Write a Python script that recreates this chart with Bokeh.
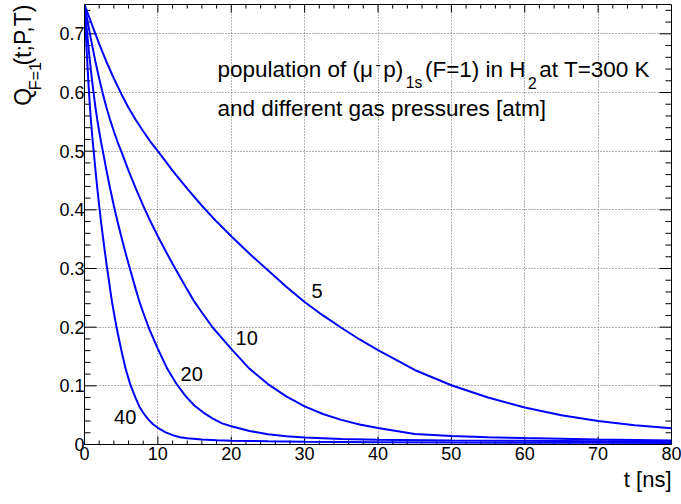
import math
from bokeh.plotting import figure
from bokeh.layouts import row
from bokeh.models import Label, Title, FixedTicker, CustomJSTickFormatter, Range1d, ColumnDataSource
from bokeh.core.properties import value
from bokeh.embed import file_html
from bokeh.resources import INLINE

# ---------------- data ----------------
pressures = ["5", "10", "20", "40"]

t5 = [0, 1, 2, 3, 4, 5, 6, 7, 8, 9, 10, 12, 14, 16, 18, 20, 22.5, 25, 27.5, 30,
      32.5, 35, 37.5, 40, 45, 50, 55, 60, 65, 70, 75, 80]
q5 = [0.75, 0.716, 0.683, 0.652, 0.624, 0.598, 0.574, 0.553, 0.534, 0.516, 0.500,
      0.467, 0.436, 0.407, 0.380, 0.355, 0.325, 0.297, 0.269, 0.243, 0.220, 0.199,
      0.179, 0.161, 0.127, 0.101, 0.080, 0.063, 0.050, 0.040, 0.033, 0.0275]

t10 = [0, 0.5, 1, 1.5, 2, 2.5, 3, 3.5, 4, 4.5, 5, 6, 7, 8, 9, 10, 11, 12, 13, 14,
       15, 16, 17.5, 20, 22.5, 25, 27.5, 30, 32.5, 35, 37.5, 40, 45, 50, 55, 60, 70, 80]
q10 = [0.75, 0.716, 0.683, 0.652, 0.624, 0.598, 0.574, 0.553, 0.534, 0.516,
       0.500, 0.467, 0.436, 0.407, 0.380, 0.355, 0.331, 0.308, 0.286, 0.264,
       0.243, 0.225, 0.199, 0.163, 0.129, 0.103, 0.082, 0.065, 0.052, 0.042,
       0.034, 0.028, 0.018, 0.0145, 0.0125, 0.011, 0.0085, 0.0068]

t20 = [0, 0.25, 0.5, 0.75, 1, 1.25, 1.5, 1.75, 2, 2.25, 2.5, 3, 3.5, 4, 4.5, 5, 5.5,
       6, 6.5, 7, 7.5, 8, 8.75, 10, 11.25, 12.5, 13.75, 15, 16.25, 17.5, 18.75, 20,
       22.5, 25, 27.5, 30, 35, 40, 50, 60, 70, 80]
q20 = [0.75, 0.716, 0.683, 0.652, 0.624, 0.598, 0.574, 0.553, 0.534, 0.516,
       0.500, 0.467, 0.436, 0.407, 0.380, 0.355, 0.331, 0.308, 0.286, 0.264,
       0.243, 0.225, 0.199, 0.163, 0.130, 0.104, 0.083, 0.066, 0.054, 0.044,
       0.036, 0.031, 0.023, 0.0175, 0.014, 0.0118, 0.0095, 0.0083, 0.0070, 0.0062,
       0.0056, 0.0050]

t40 = [0, 0.125, 0.25, 0.375, 0.5, 0.625, 0.75, 0.875, 1, 1.125, 1.25, 1.5, 1.75, 2,
       2.25, 2.5, 2.75, 3, 3.25, 3.5, 3.75, 4, 4.375, 5, 5.625, 6.25, 6.875, 7.5,
       8.125, 8.75, 9.375, 10, 11, 12, 13, 14, 16, 18, 20, 25, 30, 40, 50, 60, 70, 80]
q40 = [0.75, 0.716, 0.683, 0.652, 0.624, 0.598, 0.574, 0.553, 0.534, 0.516,
       0.500, 0.467, 0.436, 0.407, 0.380, 0.355, 0.331, 0.308, 0.286, 0.264,
       0.243, 0.225, 0.199, 0.162, 0.128, 0.102, 0.082, 0.064, 0.052, 0.042,
       0.034, 0.0285, 0.021, 0.016, 0.0125, 0.0105, 0.0085, 0.0073, 0.0065, 0.0055,
       0.0048, 0.0040, 0.0035, 0.0031, 0.0028, 0.0025]

# curve-label anchor points (data units)
label_t = [31.7, 22.1, 14.6, 5.55]
label_q = [0.262, 0.182, 0.121, 0.047]

x_ticks = list(range(0, 81, 10))
x_minor = list(range(0, 81, 2))
y_ticks = [round(i * 0.1, 1) for i in range(8)]
y_minor = [round(i * 0.02, 2) for i in range(38)]

# ---------------- layout constants ----------------
W, H = 681, 504
WL = 44                                  # narrow left strip holding the y title
BL, BR, BT, BB = 84, 10, 4, 60           # frame borders measured on the whole canvas
FW, FH = W - BL - BR, H - BT - BB
X0, X1, Y0, Y1 = 0.0, 80.0, 0.0, 0.75
FONT = "Liberation Sans"
BLUE = "#0000ff"
BASE_FIX = 0.37                          # alphabetic-baseline correction (fraction of font size)


def px2x(px):
    return X0 + (px - BL) * (X1 - X0) / FW


def top2y(py):
    return Y0 + (H - BB - py) * (Y1 - Y0) / FH


dx = (X1 - X0) / FW
dy = (Y1 - Y0) / FH

# ---------------- main figure ----------------
p = figure(width=W - WL, height=H, x_range=Range1d(X0, X1), y_range=Range1d(Y0, Y1),
           output_backend="svg", toolbar_location=None,
           min_border_left=BL - WL, min_border_right=BR, min_border_top=BT,
           min_border_bottom=BB)
p.background_fill_color = "white"
p.border_fill_color = "white"
p.outline_line_color = "black"
p.outline_line_width = 1

xa = p.xaxis[0]
xa.ticker = FixedTicker(ticks=x_ticks)
xa.formatter = CustomJSTickFormatter(code="return Math.round(tick).toString();")
ya = p.yaxis[0]
ya.ticker = FixedTicker(ticks=y_ticks)
ya.formatter = CustomJSTickFormatter(code="return tick < 1e-9 ? '0' : tick.toFixed(1);")
for ax in (xa, ya):
    ax.major_tick_in = 0
    ax.major_tick_out = 0
    ax.minor_tick_in = 0
    ax.minor_tick_out = 0
    ax.axis_line_color = "black"
    ax.major_label_text_font = FONT
    ax.major_label_text_font_size = "18px"
    ax.major_label_text_color = "black"
xa.major_label_standoff = 2
ya.major_label_standoff = 0

for g in (p.xgrid[0], p.ygrid[0]):
    g.grid_line_color = "#666666"
    g.grid_line_dash = "1 2"
    g.grid_line_width = 1
p.xgrid[0].ticker = FixedTicker(ticks=x_ticks)
p.ygrid[0].ticker = FixedTicker(ticks=y_ticks)

# inward ticks on all four sides (ROOT style)
XMAJ, XMIN, YMAJ, YMIN = 8, 4, 12, 6
sx0, sy0, sx1, sy1 = [], [], [], []
for v in x_minor:
    L = (XMAJ if v in x_ticks else XMIN) * dy
    sx0 += [v, v]; sx1 += [v, v]
    sy0 += [Y0, Y1]; sy1 += [Y0 + L, Y1 - L]
for v in y_minor:
    L = (YMAJ if v in y_ticks else YMIN) * dx
    sy0 += [v, v]; sy1 += [v, v]
    sx0 += [X0, X1]; sx1 += [X0 + L, X1 - L]
p.segment(x0=sx0, y0=sy0, x1=sx1, y1=sy1, line_color="black", line_width=1)

# curves
for ts, qs in ((t5, q5), (t10, q10), (t20, q20), (t40, q40)):
    p.line(ts, qs, line_color=BLUE, line_width=2)

lab_src = ColumnDataSource(dict(x=label_t, y=label_q, text=pressures))
p.text(x="x", y="y", text="text", source=lab_src, text_font=value(FONT),
       text_font_size=value("20px"), text_align="center", text_baseline="middle",
       text_color="black")

# ---------------- composed annotation ----------------
ADV = {' ': 278, '(': 333, ')': 333, '-': 333, '=': 584, ',': 278, ';': 278, '[': 278,
       ']': 278, '0': 556, '1': 556, '2': 556, '3': 556, '5': 556, 'F': 611, 'H': 722,
       'K': 667, 'P': 667, 'Q': 778, 'T': 611, 'a': 556, 'c': 500, 'd': 556, 'e': 556,
       'f': 278, 'g': 556, 'i': 222, 'l': 222, 'm': 833, 'n': 556, 'o': 556, 'p': 556,
       'r': 333, 's': 500, 't': 278, 'u': 556, '\u03bc': 576}


def width(s, size):
    return sum(ADV.get(c, 556) for c in s) / 1000.0 * size


def add(text, xpx, ytop, size):
    p.add_layout(Label(x=px2x(xpx), y=top2y(ytop - BASE_FIX * size), x_units="data",
                       y_units="data", text=text, text_font=FONT,
                       text_font_size=f"{size:.1f}px", text_align="left",
                       text_baseline="alphabetic", text_color="black"))


S = 22.5
s = 0.7 * S
base1 = 77.5
pieces = [("population of (\u03bc", S, 0.0), ("-", s, -8.0), ("p)", S, 0.0),
          ("1s", s, 10.5), ("(F=1) in H", S, 0.0), ("2", s, 10.5), (" at T=300 K", S, 0.0)]
x = 217.0
prev_size = None
for txt, size, off in pieces:
    if prev_size is not None and size != prev_size:
        x += 2.5
    add(txt, x, base1 + off, size)
    x += width(txt, size)
    prev_size = size
add("and different gas pressures [atm]", 217.0, 116.5, S)

# x-axis title (right aligned at the frame end)
p.add_layout(Title(text="t [ns]", align="right", text_font=FONT, text_font_size="22px",
                   text_font_style="normal", text_color="black", standoff=5, offset=0),
             "below")

# ---------------- left strip with the rotated y title ----------------
q = figure(width=WL, height=H, x_range=Range1d(0, WL), y_range=Range1d(0, H),
           output_backend="svg", toolbar_location=None, x_axis_type=None,
           y_axis_type=None, min_border=0, min_border_left=0, min_border_right=0,
           min_border_top=0, min_border_bottom=0)
q.outline_line_color = None
q.background_fill_color = "white"
q.border_fill_color = "white"
q.xgrid.visible = False
q.ygrid.visible = False

YS = 23.0
ys = 0.7 * YS
yparts = [("Q", YS, 31.5), ("F=1", ys, 40.0), ("(t;P,T)", YS, 31.5)]
yb = 116.0                               # canvas-top coordinate of the title's lower end
for txt, size, xb in yparts:
    q.text(x=[xb - BASE_FIX * size], y=[H - yb], text=[txt], angle=math.pi / 2,
           text_font=value(FONT), text_font_size=value(f"{size:.1f}px"),
           text_align="left", text_baseline="alphabetic", text_color="black")
    yb -= width(txt, size)

layout = row(q, p, spacing=0)
open("out.html", "w").write(file_html(layout, INLINE))
